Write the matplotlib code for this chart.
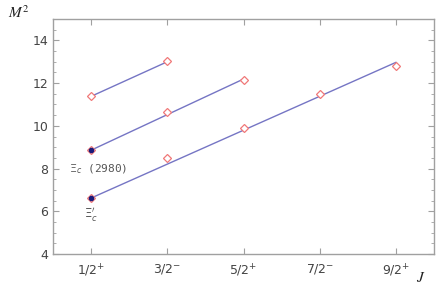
import numpy as np
import matplotlib
matplotlib.use("Agg")
import matplotlib.pyplot as plt
from matplotlib.ticker import MultipleLocator

# J values and their tick labels
j_vals = [0.5, 1.5, 2.5, 3.5, 4.5]
j_labels = [r'1/2$^{+}$', r'3/2$^{-}$', r'5/2$^{+}$', r'7/2$^{-}$', r'9/2$^{+}$']

# three Regge trajectories (M^2 in GeV^2)
traj1_j = [0.5, 1.5]
traj1_m2 = [11.38, 13.02]
traj2_j = [0.5, 1.5, 2.5]
traj2_m2 = [8.86, 10.64, 12.15]
traj3_j = [0.5, 1.5, 2.5, 3.5, 4.5]
traj3_m2 = [6.62, 8.49, 9.92, 11.48, 12.79]

# fitted lines (start / end values)
line1 = [11.38, 13.0]
line2 = [8.86, 12.19]
line3 = [6.62, 12.97]

# experimental states
exp_j = [0.5, 0.5]
exp_m2 = [8.86, 6.62]

fig = plt.figure(figsize=(4.36, 2.88), dpi=100)
ax = fig.add_axes([0.1216, 0.118, 0.8738, 0.816])

lc = '#7575c4'
ax.plot([traj1_j[0], traj1_j[-1]], line1, color=lc, lw=1.0)
ax.plot([traj2_j[0], traj2_j[-1]], line2, color=lc, lw=1.0)
ax.plot([traj3_j[0], traj3_j[-1]], line3, color=lc, lw=1.0)

for jj, mm in [(traj1_j, traj1_m2), (traj2_j, traj2_m2), (traj3_j, traj3_m2)]:
    ax.plot(jj, mm, ls='none', marker='D', ms=4.5, mfc='white',
            mec='#f07878', mew=0.9, zorder=3)
ax.plot(exp_j, exp_m2, ls='none', marker='o', ms=3.0, mfc='#1a1a7a',
        mec='#1a1a7a', zorder=4)

ax.set_xlim(0, 5)
ax.set_ylim(4, 15)
ax.set_xticks(j_vals)
ax.set_xticklabels(j_labels)
ax.yaxis.set_major_locator(MultipleLocator(2))
ax.yaxis.set_minor_locator(MultipleLocator(0.5))

gray = '#a0a0a0'
for s in ax.spines.values():
    s.set_color(gray)
    s.set_linewidth(1.0)
ax.tick_params(which='both', direction='in', color=gray, top=True, right=True,
               labelcolor='#444444', labelsize=9)
ax.tick_params(which='major', length=4)
ax.tick_params(which='minor', length=2.5)
ax.tick_params(axis='x', pad=6)

ax.text(0.21, 7.95, r'$\Xi_c$ (2980)', family='DejaVu Sans Mono', fontsize=8,
        color='#555555', ha='left', va='center')
ax.text(0.5, 5.85, r"$\Xi_c'$", fontsize=8.5, color='#555555',
        ha='center', va='center')

fig.text(0.018, 0.955, r'$M^2$', fontsize=11, family='serif', math_fontfamily='stix',
         color='#222222', va='center')
fig.text(0.955, 0.035, r'$J$', fontsize=11, math_fontfamily='stix',
         color='#222222', va='center')

fig.savefig('out.png', dpi=100)
